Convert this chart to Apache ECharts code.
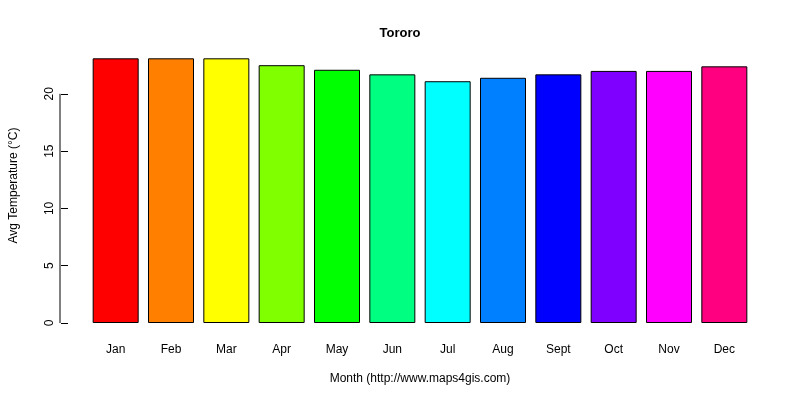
<!DOCTYPE html>
<html><head><meta charset="utf-8">
<script src="https://cdn.jsdelivr.net/npm/echarts@6/dist/echarts.min.js"></script>
<style>html,body{margin:0;background:#fff}#c{width:800px;height:400px}</style>
</head><body><div id="c"></div>
<script>
const months = ['Jan','Feb','Mar','Apr','May','Jun','Jul','Aug','Sept','Oct','Nov','Dec'];
const temps = [23.1, 23.1, 23.1, 22.5, 22.1, 21.7, 21.1, 21.4, 21.7, 22.0, 22.0, 22.4];
const colors = ['#FF0000','#FF8000','#FFFF00','#80FF00','#00FF00','#00FF80','#00FFFF','#0080FF','#0000FF','#8000FF','#FF00FF','#FF0080'];
const yTicks = [0,5,10,15,20];
const font = 'Liberation Sans, Arial, sans-serif';
const chart = echarts.init(document.getElementById('c'));
chart.setOption({
  animation:false,
  title:{text:'Tororo',left:'center',top:22,textStyle:{fontFamily:font,fontSize:13,fontWeight:'bold',color:'#000'}},
  grid:{left:80,right:48,top:48,bottom:77},
  xAxis:{type:'category',data:months,name:'Month (http://www.maps4gis.com)',nameLocation:'middle',nameGap:50,
    nameTextStyle:{fontFamily:font,fontSize:12,color:'#000'},
    axisLine:{show:false},axisTick:{show:false},
    axisLabel:{fontFamily:font,fontSize:12,color:'#000',margin:21}},
  yAxis:{type:'value',min:0,max:24,interval:5,offset:20,splitLine:{show:false},
    name:'Avg Temperature (°C)',nameLocation:'middle',nameGap:48,
    nameTextStyle:{fontFamily:font,fontSize:12,color:'#000'},
    axisLine:{show:false},axisTick:{show:true,length:7,lineStyle:{color:'#000'}},
    axisLabel:{fontFamily:font,fontSize:12,color:'#000',rotate:90,margin:12,showMaxLabel:false,
      formatter:v=>yTicks.includes(v)?String(v):''}},
  series:[{type:'bar',barWidth:46,
    data:temps.map((v,i)=>({value:v,itemStyle:{color:colors[i]}})),
    itemStyle:{borderColor:'#000',borderWidth:1}}]
});
const p0 = chart.convertToPixel({yAxisIndex:0},0);
const p1 = chart.convertToPixel({yAxisIndex:0},20);
chart.setOption({graphic:[{type:'line',shape:{x1:60,y1:p0,x2:60,y2:p1},style:{stroke:'#000',lineWidth:1}}]});
</script></body></html>
